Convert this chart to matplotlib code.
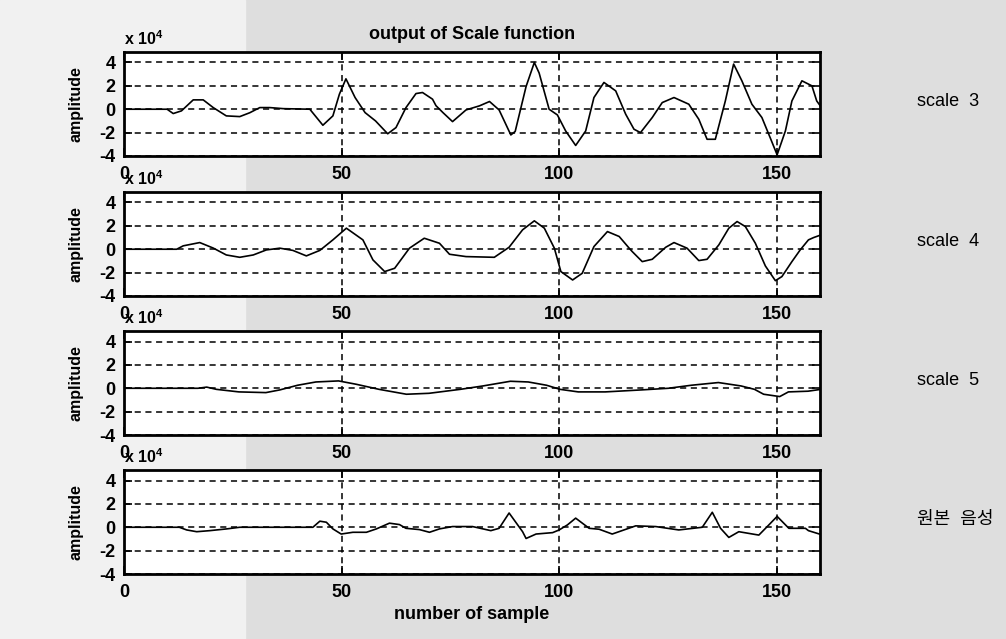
import matplotlib
matplotlib.use('Agg')
import matplotlib.pyplot as plt
from matplotlib.patches import Rectangle

plt.rcParams['font.family'] = ['Liberation Sans', 'Noto Sans CJK KR', 'DejaVu Sans']
plt.rcParams['mathtext.fontset'] = 'custom'
plt.rcParams['mathtext.bf'] = 'Liberation Sans:bold'
plt.rcParams['axes.unicode_minus'] = False

# amplitudes, in units of 1e4
s3_x = [0, 9.9, 11.3, 13.2, 15.9, 18.2, 20.5, 23.5, 26.6, 28.9, 31.2, 33.5, 36.6, 42.7, 45.7,
        48.0, 49.5, 51.0, 53.1, 55.4, 57.8, 60.6, 62.5, 64.8, 67.1, 68.6, 70.9, 71.7, 73.3,
        75.5, 78.6, 81.7, 84.0, 86.2, 88.9, 89.9, 92.4, 94.3, 95.4, 97.7, 99.6, 101.5, 103.8,
        106.1, 108.0, 110.3, 113.0, 115.3, 117.2, 118.7, 121.4, 123.7, 126.4, 129.8, 132.1,
        134.0, 135.9, 138.2, 140.1, 142.0, 144.3, 146.6, 148.5, 150.1, 152.0, 153.5, 155.8,
        158.1, 159.2, 160]
s3_y = [0, 0, -0.37, -0.14, 0.8, 0.8, 0.14, -0.57, -0.63, -0.3, 0.14, 0.14, 0.05, 0, -1.37,
        -0.57, 1.29, 2.6, 1.0, -0.29, -1.0, -2.1, -1.57, 0.14, 1.34, 1.43, 0.86, 0.3, -0.29,
        -1.06, -0.06, 0.29, 0.66, -0.06, -2.2, -1.9, 1.94, 4.0, 3.1, 0.0, -0.49, -1.86, -3.1,
        -1.86, 1.0, 2.29, 1.57, -0.43, -1.71, -2.0, -0.71, 0.57, 1.0, 0.43, -0.86,
        -2.57, -2.57, 0.71, 3.86, 2.43, 0.43, -0.71, -2.43, -3.9, -1.86, 0.71, 2.43,
        2.0, 0.71, 0.3]

s4_x = [0, 12.1, 13.6, 17.4, 20.5, 23.5, 26.6, 29.7, 32.7, 35.8, 38.8, 41.9, 45.0, 48.0, 51.1,
        54.9, 57.2, 59.9, 62.2, 65.6, 69.0, 72.5, 74.8, 78.6, 85.1, 88.5, 91.6, 94.3, 96.6,
        98.9, 100.4, 103.1, 105.3, 108.0, 111.1, 113.8, 116.1, 116.8, 119.1, 121.4, 124.5,
        126.4, 129.4, 132.1, 134.0, 136.7, 139.0, 140.9, 142.8, 145.1, 147.4, 149.7, 151.2,
        153.5, 155.4, 157.3, 158.5, 160]
s4_y = [0, 0, 0.29, 0.57, 0.1, -0.49, -0.69, -0.49, -0.06, 0.09, -0.1, -0.57, -0.1, 0.8, 1.8,
        0.8, -0.91, -1.91, -1.63, 0.09, 0.94, 0.51, -0.43, -0.63, -0.69, 0.17, 1.66, 2.43, 1.8,
        0.09, -1.91, -2.63, -2.06, 0.23, 1.51, 1.09, 0.09, -0.2, -1.06, -0.86, 0.17,
        0.57, 0.09, -0.97, -0.86, 0.37, 1.8, 2.37, 1.94, 0.51, -1.43, -2.69, -2.34,
        -1.06, -0.06, 0.8, 1.0, 1.2]

s5_x = [0, 17, 19, 21.2, 26.4, 32.6, 35.8, 39.9, 44.1, 49.3, 53.4, 58.6, 64.9, 70.1, 77.3,
        82.5, 88.8, 92.9, 97.1, 100.2, 104.4, 110.6, 118.9, 125.1, 130.4, 136.6, 141.8,
        144.9, 147.0, 150.7, 152.7, 157.2, 160]
s5_y = [0, 0, 0.1, -0.09, -0.31, -0.37, -0.14, 0.26, 0.54, 0.63, 0.34, -0.09, -0.51, -0.43,
        -0.09, 0.2, 0.6, 0.54, 0.26, -0.09, -0.31, -0.31, -0.14, 0, 0.26, 0.49, 0.2,
        -0.09, -0.51, -0.71, -0.31, -0.25, -0.1]

orig_x = [0, 12.7, 14.4, 16.7, 19.7, 23.6, 26.6, 43.4, 45.0, 46.5, 48.0, 49.9, 52.6, 55.7,
          58.0, 61.0, 63.3, 64.8, 67.9, 70.2, 72.5, 75.5, 80.1, 84.3, 86.2, 88.5, 91.6, 92.4,
          94.7, 98.5, 100.0, 101.9, 103.8, 106.9, 109.2, 112.2, 114.9, 117.6, 122.2, 127.5,
          132.9, 135.2, 137.1, 139.0, 141.3, 145.9, 148.2, 150.1, 152.8, 156.6, 157.3, 160]
orig_y = [0, 0, -0.23, -0.38, -0.29, -0.14, 0, 0, 0.52, 0.43, -0.14, -0.58, -0.43, -0.43,
          -0.14, 0.35, 0.23, -0.09, -0.2, -0.43, -0.14, 0.06, 0.06, -0.29, -0.09, 1.22, -0.38,
          -0.96, -0.58, -0.46, -0.23, 0.2, 0.78, -0.09, -0.17, -0.58, -0.23, 0.12, 0.06, -0.23,
          0, 1.28, -0.09, -0.87, -0.38, -0.67, 0.2, 0.93, -0.09, -0.09, -0.29, -0.6]

row_labels = ['scale  3', 'scale  4', 'scale  5', '원본  음성']
x_ticks = [0, 50, 100, 150]
y_ticks = [-4, -2, 0, 2, 4]

series = [(s3_x, s3_y), (s4_x, s4_y), (s5_x, s5_y), (orig_x, orig_y)]

fig = plt.figure(figsize=(10.06, 6.39), dpi=100, facecolor='#dedede')
# paler, sparsely speckled strip on the left of the scan
fig.add_artist(Rectangle((0, 0), 245 / 1006, 1, transform=fig.transFigure,
                         color='#f1f1f1', zorder=-5))

left, width, height = 0.1233, 0.692, 0.1628
bottoms = [0.7559, 0.5368, 0.3192, 0.1017]

axes = []
for i, (xs, ys) in enumerate(series):
    ax = fig.add_axes([left, bottoms[i], width, height])
    ax.set_facecolor('white')
    ax.plot(xs, ys, color='black', lw=1.2, zorder=3)
    ax.set_xlim(0, 160)
    ax.set_ylim(-4, 4.9)
    ax.set_xticks(x_ticks)
    ax.set_yticks(y_ticks)
    ax.grid(True, color='black', linestyle=(0, (4, 3)), linewidth=1.1)
    ax.tick_params(direction='in', length=6, width=1.2, top=True, right=True,
                   labelsize=13)
    ax.tick_params(axis='x', pad=7)
    ax.tick_params(axis='y', pad=6)
    for lbl in ax.get_xticklabels() + ax.get_yticklabels():
        lbl.set_fontweight('bold')
    for sp in ax.spines.values():
        sp.set_linewidth(2.0)
    ax.set_ylabel('amplitude', fontweight='bold', fontsize=11.5)
    ax.yaxis.set_label_coords(-0.058, 0.5)
    # MATLAB style exponent label sitting on the axes corner
    ax.text(0.0, 1.04, r'x 10$^{\mathbf{4}}$', transform=ax.transAxes,
            fontweight='bold', fontsize=11.5, ha='left', va='bottom')
    fig.text(0.9115, bottoms[i] + height / 2 + 0.004, row_labels[i], fontsize=13,
             ha='left', va='center')
    axes.append(ax)

axes[0].set_title('output of Scale function', fontweight='bold', fontsize=13, pad=9)
axes[-1].set_xlabel('number of sample', fontweight='bold', fontsize=13, labelpad=4)

fig.savefig('out.png', dpi=100, facecolor=fig.get_facecolor())
